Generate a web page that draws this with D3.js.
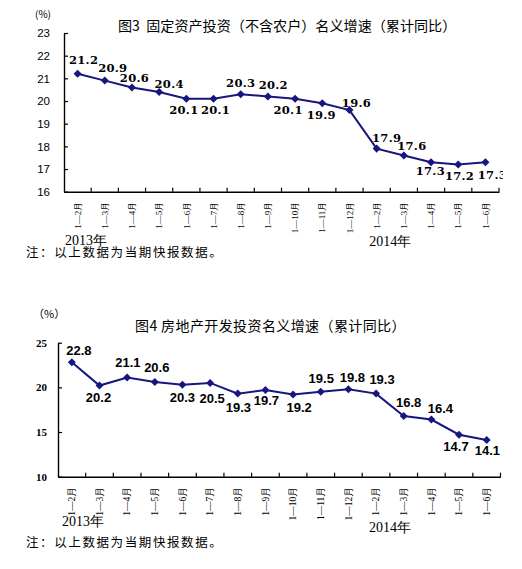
<!DOCTYPE html>
<html><head><meta charset="utf-8">
<script src="https://cdn.jsdelivr.net/npm/d3@7/dist/d3.min.js"></script>
<style>
html,body{margin:0;padding:0;background:#fff;}
svg{display:block;}
</style></head>
<body>
<svg id="chart" width="522" height="569"></svg>
<script>
// ---- data ----
const periodLabels = ["1—2月","1—3月","1—4月","1—5月","1—6月","1—7月","1—8月","1—9月","1—10月","1—11月","1—12月",
                      "1—2月","1—3月","1—4月","1—5月","1—6月"];
const periodYears = [2013,2013,2013,2013,2013,2013,2013,2013,2013,2013,2013,2014,2014,2014,2014,2014];
const yearLabels = ["2013年","2014年"];
const fixedAssetGrowth = [21.2,20.9,20.6,20.4,20.1,20.1,20.3,20.2,20.1,19.9,19.6,17.9,17.6,17.3,17.2,17.3];
const realEstateGrowth = [22.8,20.2,21.1,20.6,20.3,20.5,19.3,19.7,19.2,19.5,19.8,19.3,16.8,16.4,14.7,14.1];
const fixedAssetTicks = [16,17,18,19,20,21,22,23];
const realEstateTicks = [10,15,20,25];
const title1 = "图3  固定资产投资（不含农户）名义增速（累计同比）";
const title2 = "图4 房地产开发投资名义增速（累计同比）";
const unit1 = "(%)";
const unit2 = "（%）";
const noteText = "注：以上数据为当期快报数据。";

// ---- layout: data-label nudges relative to each marker (px) ----
const fixedAssetLabelDx = [6, 8, 2.5, 10, -2.5, 2, 0, 5.4, -7, -1, 7, 10, 8, -0.7, 1.3, 7];
const fixedAssetLabelDy = [-14, -13, -10, -8, 11.3, 11.3, -11, -12, 11, 12, -7.5, -11, -10, 8.5, 11, 13];
const realEstateLabelDx = [7, -1, 0.7, 2, 0, 2, 0.7, 1, 6, 0.5, 4, 6, 5, 9, -3, 0.7];
const realEstateLabelDy = [-12, 11.7, -15, -15, 12.7, 15, 13.3, 10, 13.3, -13.4, -12.3, -14.3, -14, -11, 11.7, 10];

const svg = d3.select("#chart");
const LINE = "#16167e";
const CJK = "'Noto Sans CJK SC','Noto Sans',sans-serif";

function drawChart(g, cfg) {
  const idx = d3.range(periodLabels.length);
  const x = d3.scaleBand().domain(idx).range([cfg.x0, cfg.x1]).padding(0);
  const y = d3.scaleLinear().domain(cfg.yDomain).range([cfg.yBottom, cfg.yTop]);
  const cx = i => x(i) + x.bandwidth() / 2;

  // y axis
  const ya = g.append("g").attr("transform", `translate(${cfg.x0},0)`)
    .call(d3.axisLeft(y).tickValues(cfg.ticks).tickFormat(d3.format("d"))
      .tickSizeInner(-4).tickSizeOuter(0).tickPadding(cfg.yPad));
  ya.select(".domain").attr("stroke", "#000").attr("stroke-width", 1.4);
  ya.selectAll(".tick line").attr("stroke", "#000").attr("stroke-width", 1.2);
  ya.selectAll(".tick text").attr("font-family", cfg.yFont).attr("font-size", cfg.yFontSize)
    .attr("font-weight", cfg.yWeight).attr("fill", "#000");

  // x axis
  const xa = g.append("g").attr("transform", `translate(0,${cfg.yBottom})`)
    .call(d3.axisBottom(x).tickSize(0).tickFormat(i => periodLabels[i]));
  xa.select(".domain").attr("stroke", "#000").attr("stroke-width", 1.4);
  xa.selectAll(".tick text")
    .attr("font-family", "'Liberation Serif',serif").attr("font-size", cfg.xFontSize).attr("fill", "#000")
    .attr("text-anchor", "end").attr("transform", "rotate(-90)")
    .attr("x", -cfg.xLabelGap).attr("y", 0).attr("dy", "0.35em");
  // tick marks at band boundaries (pointing up)
  g.append("g").selectAll("line").data(idx).join("line")
    .attr("x1", i => x(i) + x.step()).attr("x2", i => x(i) + x.step())
    .attr("y1", cfg.yBottom).attr("y2", cfg.yBottom - 4)
    .attr("stroke", "#000").attr("stroke-width", 1.2);

  // years
  const firstOf = yr => periodYears.indexOf(yr);
  g.append("text").attr("x", x(firstOf(2013)) + cfg.year1dx).attr("y", cfg.year1y)
    .attr("font-family", "'Liberation Serif',serif").attr("font-size", 14).text(yearLabels[0]);
  g.append("text").attr("x", x(firstOf(2014) + 1)).attr("y", cfg.year2y).attr("text-anchor", "middle")
    .attr("font-family", "'Liberation Serif',serif").attr("font-size", 14).text(yearLabels[1]);

  // clip
  const clipId = "clip" + cfg.id;
  svg.append("defs").append("clipPath").attr("id", clipId)
    .append("rect").attr("x", 0).attr("y", 0).attr("width", cfg.clipX).attr("height", 569);
  const plot = g.append("g").attr("clip-path", `url(#${clipId})`);

  // line
  plot.append("path").datum(cfg.values)
    .attr("d", d3.line().x((d, i) => cx(i)).y(d => y(d)))
    .attr("fill", "none").attr("stroke", LINE).attr("stroke-width", 2);
  plot.selectAll("path.mk").data(cfg.values).join("path").attr("class", "mk")
    .attr("d", d3.symbol(d3.symbolSquare, 32))
    .attr("transform", (d, i) => `translate(${cx(i)},${y(d)}) rotate(45)`)
    .attr("fill", LINE);
  plot.selectAll("text.lbl").data(cfg.values).join("text").attr("class", "lbl")
    .attr("x", (d, i) => cx(i) + cfg.ldx[i])
    .attr("y", (d, i) => y(d) + cfg.ldy[i])
    .attr("dy", "0.36em")
    .attr("text-anchor", "middle")
    .attr("font-family", cfg.lblFont).attr("font-size", cfg.lblSize).attr("font-weight", "bold")
    .attr("letter-spacing", cfg.lblSpacing).attr("fill", "#000")
    .text(d => d.toFixed(1));

  // title, unit, note
  g.append("text").attr("x", cfg.titleX).attr("y", cfg.titleY).attr("font-family", CJK)
    .attr("font-size", cfg.titleSize).attr("letter-spacing", cfg.titleSpacing)
    .style("white-space", "pre").attr("fill", "#000").text(cfg.title);
  g.append("text").attr("x", cfg.unitX).attr("y", cfg.unitY).attr("font-family", CJK)
    .attr("font-size", cfg.unitSize).attr("fill", "#000").text(cfg.unit);
  g.append("text").attr("x", 26).attr("y", cfg.noteY).attr("font-family", CJK)
    .attr("font-size", 12.5).attr("letter-spacing", 1.6).attr("fill", "#000").text(noteText);
}

drawChart(svg.append("g"), {
  id: 1, x0: 64, x1: 499, yBottom: 191.7, yTop: 33, yDomain: [16, 23], ticks: fixedAssetTicks,
  yPad: 14, yFont: "'Liberation Sans',Arial,sans-serif", yFontSize: 11.5, yWeight: "normal",
  xLabelGap: 10, xFontSize: 9, year1dx: 1, year1y: 245, year2y: 246,
  values: fixedAssetGrowth, ldx: fixedAssetLabelDx, ldy: fixedAssetLabelDy,
  lblFont: "'DejaVu Serif',serif", lblSize: 11.5, lblSpacing: 0.3, clipX: 503,
  title: title1, titleX: 118, titleY: 31, titleSize: 14.1, titleSpacing: 0,
  unit: unit1, unitX: 35, unitY: 18, unitSize: 10, noteY: 257
});

drawChart(svg.append("g"), {
  id: 2, x0: 58, x1: 500.5, yBottom: 476.7, yTop: 342.7, yDomain: [10, 25], ticks: realEstateTicks,
  yPad: 11, yFont: "'Liberation Serif',serif", yFontSize: 11, yWeight: "bold",
  xLabelGap: 10, xFontSize: 9.5, year1dx: 4, year1y: 526, year2y: 532,
  values: realEstateGrowth, ldx: realEstateLabelDx, ldy: realEstateLabelDy,
  lblFont: "'Liberation Sans',Arial,sans-serif", lblSize: 13, lblSpacing: 0, clipX: 522,
  title: title2, titleX: 135, titleY: 331, titleSize: 14, titleSpacing: 0.4,
  unit: unit2, unitX: 33, unitY: 318, unitSize: 11, noteY: 547
});
</script>
</body></html>
